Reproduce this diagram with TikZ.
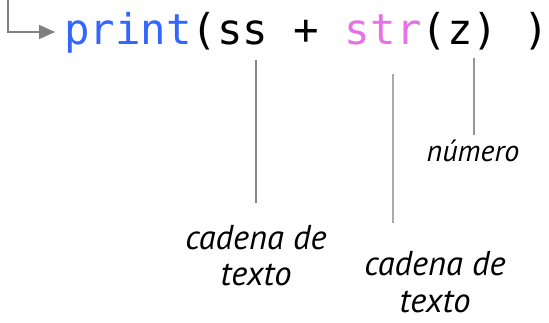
\documentclass[tikz,border=0pt]{standalone}
\usepackage{fontspec}
\setmainfont{PT Sans}
\newfontfamily\codefont{DejaVu Sans Mono}
\usetikzlibrary{arrows.meta}
\definecolor{kwblue}{RGB}{51,102,255}
\definecolor{kwpink}{RGB}{230,115,230}
\definecolor{grayA}{RGB}{128,128,128}
\definecolor{grayB}{RGB}{136,136,136}
\definecolor{grayC}{RGB}{170,170,170}
\definecolor{grayD}{RGB}{150,150,150}
\tikzset{
  codetext/.style={inner sep=0pt, font=\codefont\fontsize{42.4}{50}\selectfont},
  label/.style={inner sep=0pt, align=center, font=\itshape\fontsize{34.5}{36.5}\selectfont},
  smalllabel/.style={label, font=\itshape\fontsize{30}{34}\selectfont},
  leader/.style={line width=2pt},
  flowarrow/.style={line width=2pt, draw=grayA, -{Triangle[length=16pt,width=14pt,fill=grayA]}}
}
\begin{document}
\begin{tikzpicture}[x=1pt,y=-1pt]
\useasboundingbox (0,0) rectangle (549,323);
\node[codetext, anchor=base west] (code) at (64,45)
  {\textcolor{kwblue}{print}(ss + \textcolor{kwpink}{str}(z) )};
\coordinate (top) at (8,-2);
\coordinate (tip) at (55,32);
\draw[flowarrow] (top) |- (tip);
\node[label, anchor=base] (lab1) at (256,286) {cadena de\\texto};
\node[label, anchor=base] (lab2) at (435,312) {cadena de\\texto};
\node[smalllabel, anchor=base] (lab3) at (473,162) {número};
\coordinate (t1) at (256,60);
\coordinate (b1) at (256,203);
\coordinate (t2) at (393,74);
\coordinate (b2) at (393,223);
\coordinate (t3) at (474,58);
\coordinate (b3) at (474,135);
\draw[leader, draw=grayB] (t1) -- (b1);
\draw[leader, draw=grayC] (t2) -- (b2);
\draw[leader, draw=grayD] (t3) -- (b3);
\end{tikzpicture}
\end{document}
